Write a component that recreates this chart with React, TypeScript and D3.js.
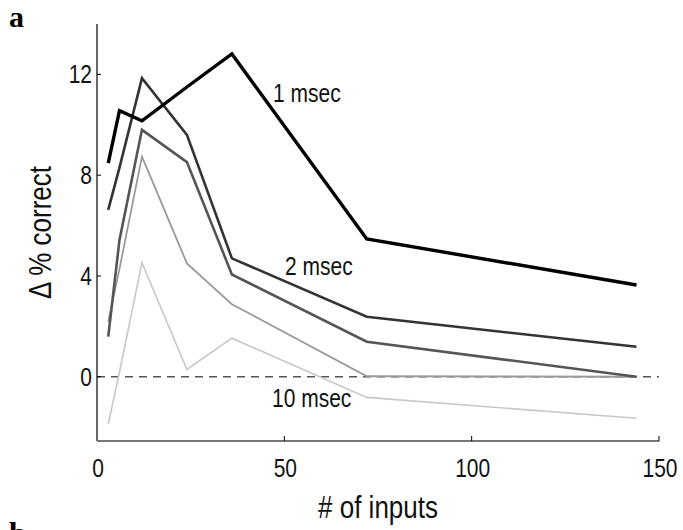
import React from "react";
import * as d3 from "d3";

const inputs = [3, 6, 12, 24, 36, 72, 144];
const series1ms = [8.48, 10.56, 10.16, 11.5, 12.81, 5.47, 3.64];
const series2 = [6.62, 8.3, 11.85, 9.6, 4.7, 2.38, 1.19];
const series3 = [1.59, 5.43, 9.8, 8.52, 4.06, 1.39, 0.0];
const series4 = [2.19, 4.28, 8.74, 4.5, 2.88, 0.02, 0.0];
const series10ms = [-1.88, 0.19, 4.53, 0.29, 1.53, -0.82, -1.65];

const allSeries = [series10ms, series4, series3, series2, series1ms];
const seriesColors = ["#c8c8c8", "#9a9a9a", "#555555", "#333333", "#000000"];
const seriesWidths = [1.6, 1.8, 2.6, 2.6, 3.4];

const xTicks = [0, 50, 100, 150];
const yTicks = [0, 4, 8, 12];
const lineLabels = [
  { text: "1 msec", x: 273, y: 102 },
  { text: "2 msec", x: 285, y: 275 },
  { text: "10 msec", x: 272, y: 407 },
];

const W = 683;
const H = 530;
const left = 97;
const right = 659;
const top = 24;
const bottom = 441;
const NARROW = 0.84;

type NTProps = {
  x: number;
  y: number;
  size: number;
  anchor?: "start" | "middle" | "end";
  rotate?: number;
  children: React.ReactNode;
};

function NarrowText({ x, y, size, anchor = "start", rotate = 0, children }: NTProps) {
  return (
    <g transform={`translate(${x},${y}) rotate(${rotate}) scale(${NARROW},1)`}>
      <text
        x={0}
        y={0}
        textAnchor={anchor}
        fontFamily="'Liberation Sans', Arial, sans-serif"
        fontSize={size}
        fill="#111"
      >
        {children}
      </text>
    </g>
  );
}

export default function App() {
  const x = d3.scaleLinear().domain([0, 150]).range([left, right]);
  const y = d3.scaleLinear().domain([-2.55, 14]).range([bottom, top]);
  const line = d3
    .line<number>()
    .x((_, i) => x(inputs[i]))
    .y((d) => y(d));

  return (
    <svg
      width={W}
      height={H}
      style={{ position: "absolute", left: 0, top: 0, background: "#fff" }}
    >
      <text x={9} y={27} fontFamily="'Liberation Serif', serif" fontWeight="bold" fontSize={30}>
        a
      </text>
      <text x={9} y={544} fontFamily="'Liberation Serif', serif" fontWeight="bold" fontSize={32}>
        b
      </text>

      <line
        x1={left}
        x2={right}
        y1={y(0)}
        y2={y(0)}
        stroke="#555"
        strokeWidth={1.3}
        strokeDasharray="8,6"
      />

      {allSeries.map((s, i) => (
        <path
          key={i}
          d={line(s) || ""}
          fill="none"
          stroke={seriesColors[i]}
          strokeWidth={seriesWidths[i]}
          strokeLinejoin="miter"
        />
      ))}

      <line x1={left} x2={left} y1={top} y2={bottom} stroke="#000" strokeWidth={1.2} />
      <line x1={left} x2={right} y1={bottom} y2={bottom} stroke="#777" strokeWidth={2} />

      {yTicks.map((t) => (
        <g key={"y" + t}>
          <line x1={left} x2={left + 4} y1={y(t)} y2={y(t)} stroke="#000" strokeWidth={1} />
          <NarrowText x={left - 5} y={y(t) + 9} size={25} anchor="end">
            {t}
          </NarrowText>
        </g>
      ))}

      {xTicks.map((t) => (
        <g key={"x" + t}>
          {t > 0 && (
            <line x1={x(t)} x2={x(t)} y1={bottom} y2={bottom - 5} stroke="#000" strokeWidth={1} />
          )}
          <NarrowText x={x(t) + 1} y={477} size={25} anchor="middle">
            {t}
          </NarrowText>
        </g>
      ))}

      {lineLabels.map((l) => (
        <NarrowText key={l.text} x={l.x} y={l.y} size={25}>
          {l.text}
        </NarrowText>
      ))}

      <NarrowText x={(left + right) / 2} y={518} size={31} anchor="middle">
        # of inputs
      </NarrowText>
      <NarrowText x={51} y={(top + bottom) / 2} size={31} anchor="middle" rotate={-90}>
        Δ % correct
      </NarrowText>
    </svg>
  );
}
